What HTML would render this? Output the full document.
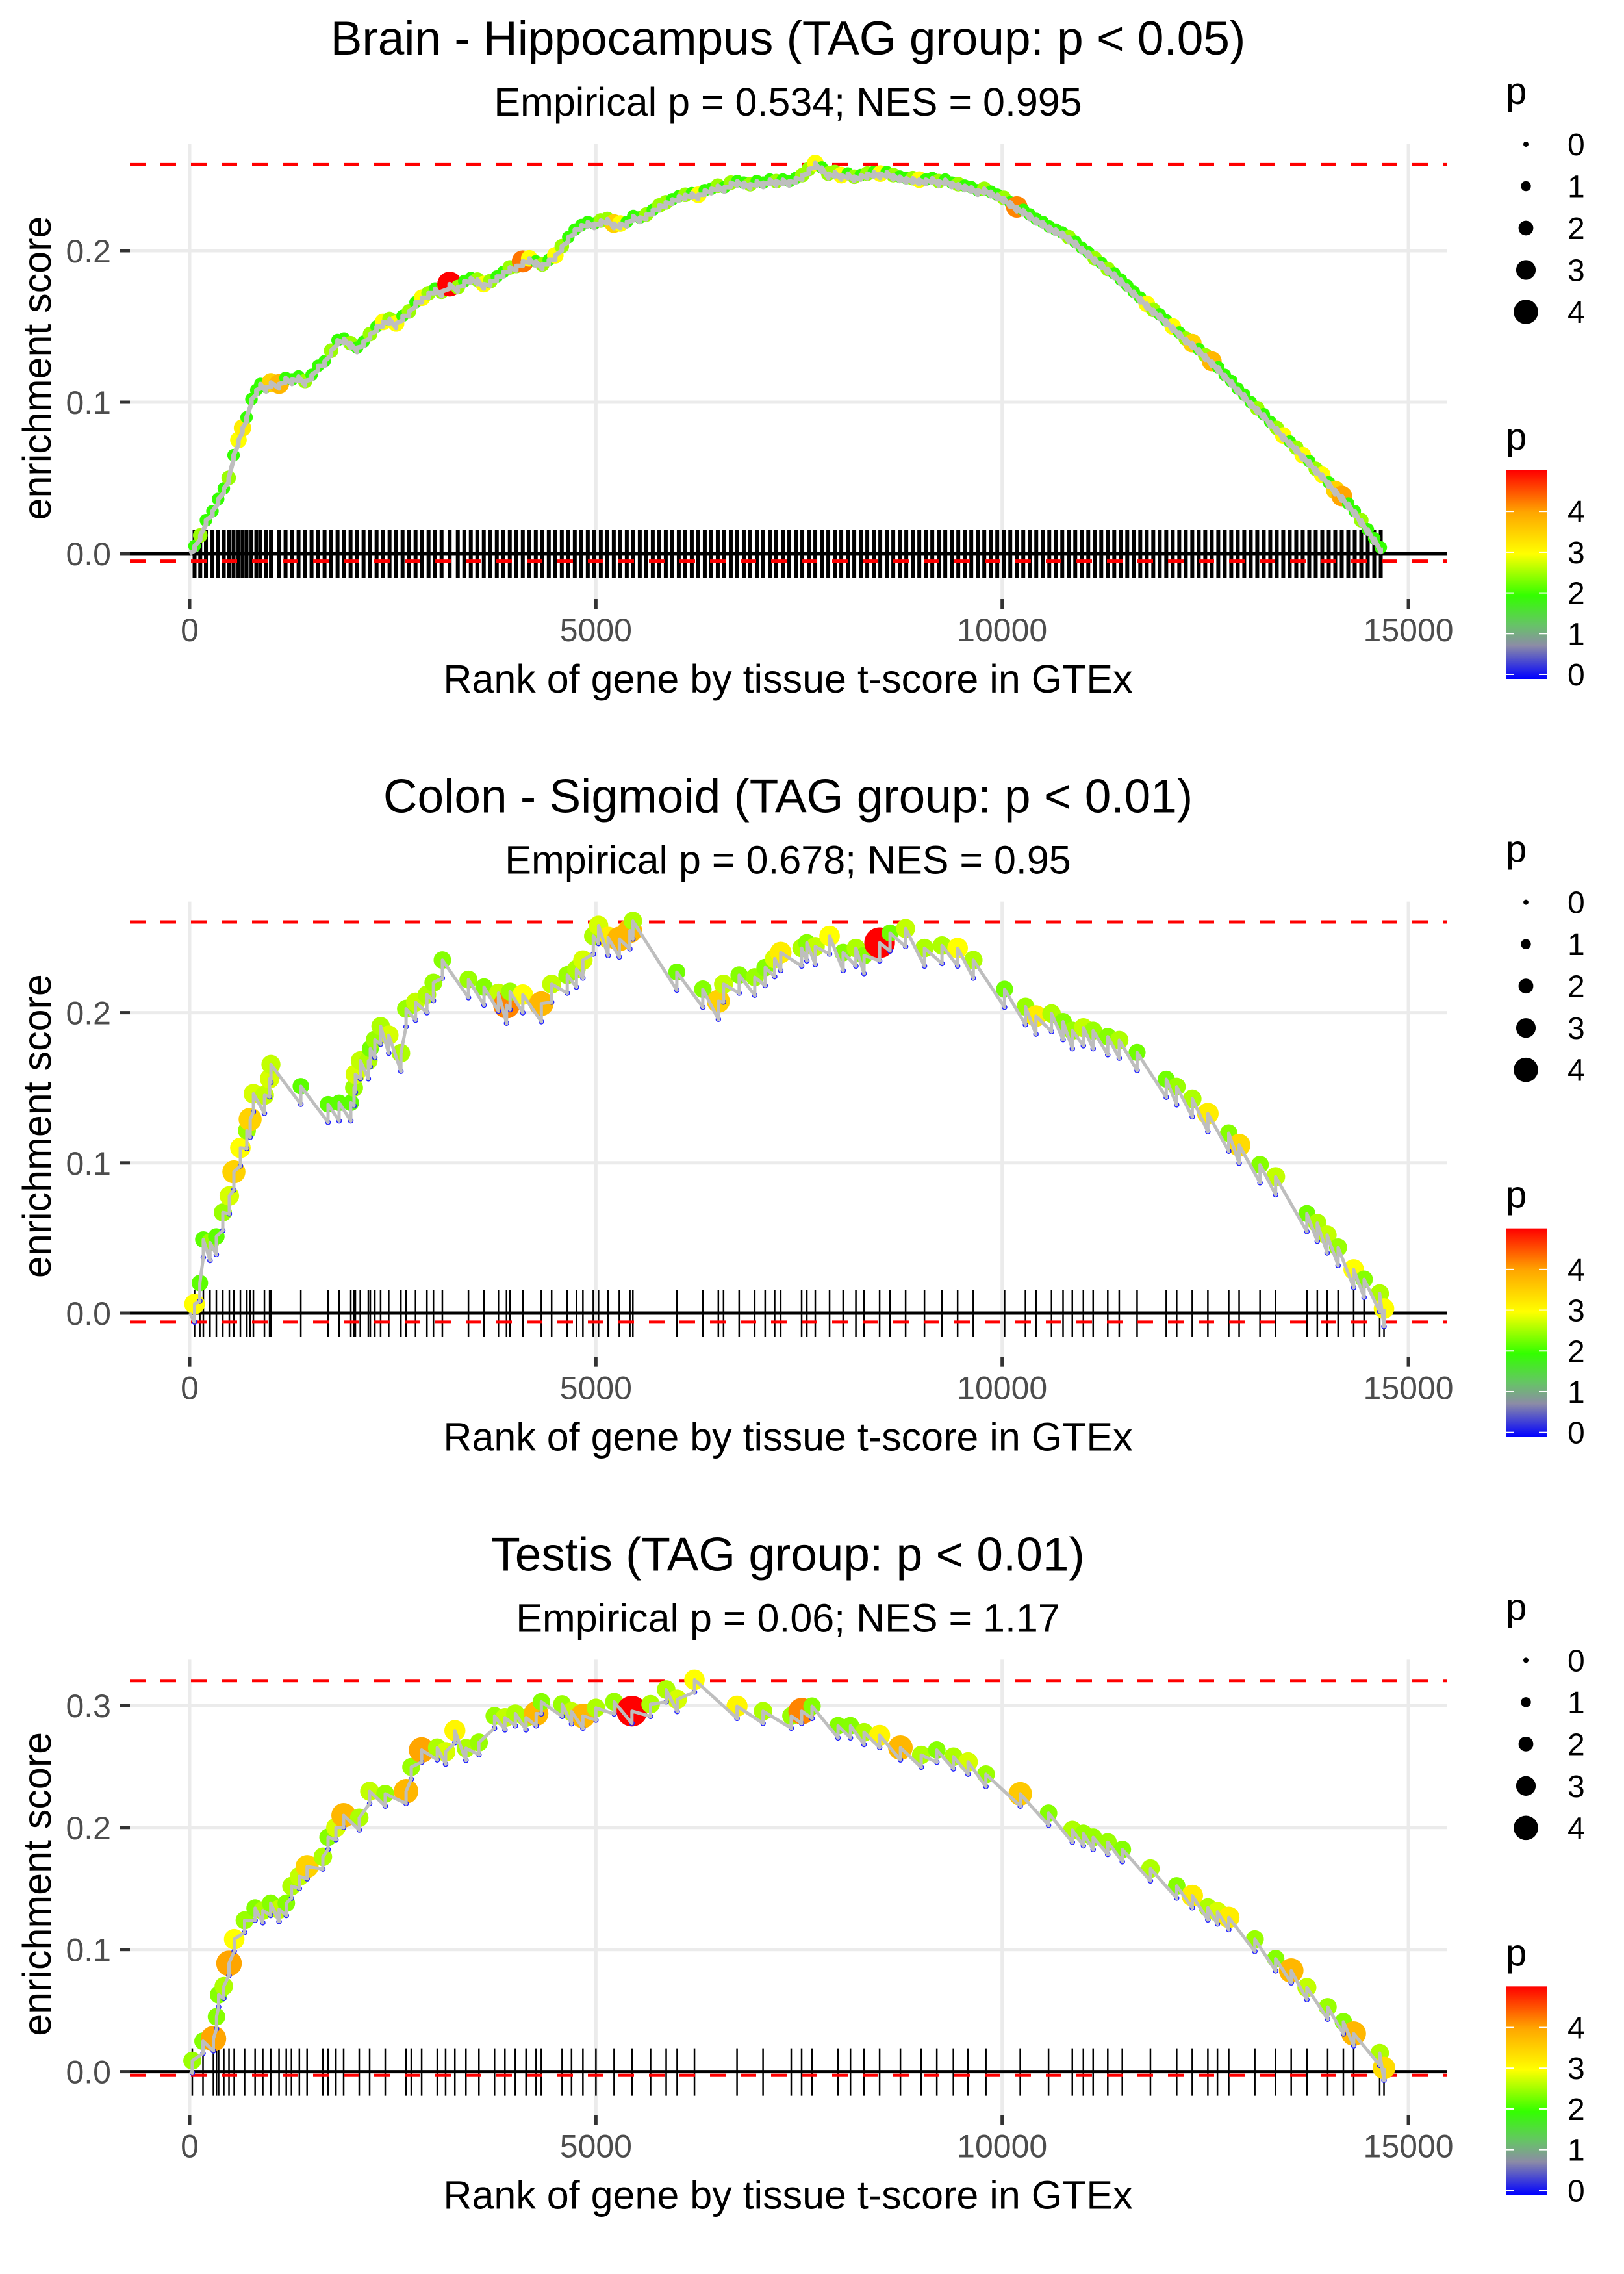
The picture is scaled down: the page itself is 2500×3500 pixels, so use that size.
<!DOCTYPE html>
<html><head><meta charset="utf-8"><style>
html,body{margin:0;padding:0;background:#fff;}
svg{display:block;font-family:"Liberation Sans",sans-serif;}
</style></head><body>
<svg id="chart" width="2500" height="3500" viewBox="0 0 2500 3500" xmlns="http://www.w3.org/2000/svg">
<defs>
<linearGradient id="pgrad" x1="0" y1="1" x2="0" y2="0">
<stop offset="0" stop-color="#0000ff"/>
<stop offset="0.16" stop-color="#8c8ca6"/>
<stop offset="0.26" stop-color="#66c466"/>
<stop offset="0.4" stop-color="#33ff00"/>
<stop offset="0.6" stop-color="#ffff00"/>
<stop offset="0.8" stop-color="#ffa500"/>
<stop offset="1" stop-color="#ff0000"/>
</linearGradient>
</defs>
</svg>
<script>
// ---------- data ----------
const titles = ["Brain - Hippocampus (TAG group: p < 0.05)","Colon - Sigmoid (TAG group: p < 0.01)","Testis (TAG group: p < 0.01)"];
const subtitles = ["Empirical p = 0.534; NES = 0.995","Empirical p = 0.678; NES = 0.95","Empirical p = 0.06; NES = 1.17"];
const esMax = [0.2569, 0.2604, 0.3203];
const esMin = [-0.005, -0.006, -0.003];
const xTicks = [0, 5000, 10000, 15000];
const xTickLabels = ["0","5000","10000","15000"];
const yTicks1 = [0, 0.1, 0.2];
const yTicks2 = [0, 0.1, 0.2];
const yTicks3 = [0, 0.1, 0.2, 0.3];
const yTickLabels1 = ["0.0","0.1","0.2"];
const yTickLabels2 = ["0.0","0.1","0.2"];
const yTickLabels3 = ["0.0","0.1","0.2","0.3"];
const sizeLegendValues = [0,1,2,3,4];
const colorLegendValues = [0,1,2,3,4];

const ranks1 = [60,130,200,280,350,420,480,540,600,650,700,760,820,870,940,1000,1100,1180,1260,1340,1420,1500,1580,1660,1740,1820,1900,1980,2060,2140,2220,2300,2380,2460,2540,2620,2700,2780,2860,2940,3020,3100,3200,3300,3380,3460,3540,3620,3700,3780,3860,3940,4020,4100,4180,4260,4340,4420,4500,4580,4660,4740,4820,4900,4980,5060,5140,5220,5300,5380,5460,5540,5620,5700,5780,5860,5940,6020,6100,6180,6260,6340,6420,6500,6580,6660,6740,6820,6900,6980,7060,7140,7220,7300,7380,7460,7540,7620,7700,7780,7860,7940,8020,8100,8180,8260,8340,8420,8500,8580,8660,8740,8820,8900,8980,9060,9140,9220,9300,9380,9460,9540,9620,9700,9780,9860,9940,10020,10100,10180,10260,10340,10420,10500,10580,10660,10740,10820,10900,10980,11060,11140,11220,11300,11380,11460,11540,11620,11700,11780,11860,11940,12020,12100,12180,12260,12340,12420,12500,12580,12660,12740,12820,12900,12980,13060,13140,13220,13300,13380,13460,13540,13620,13700,13780,13860,13940,14020,14100,14180,14260,14340,14420,14500,14580,14660];
const es1 = [0.005,0.012,0.022,0.028,0.036,0.043,0.05,0.065,0.075,0.083,0.09,0.102,0.108,0.112,0.11,0.113,0.112,0.116,0.115,0.117,0.114,0.118,0.124,0.127,0.134,0.141,0.142,0.139,0.136,0.14,0.145,0.15,0.153,0.155,0.152,0.157,0.16,0.166,0.169,0.172,0.175,0.173,0.178,0.176,0.18,0.182,0.181,0.178,0.18,0.183,0.186,0.189,0.19,0.193,0.195,0.193,0.191,0.194,0.197,0.203,0.209,0.214,0.217,0.219,0.218,0.22,0.221,0.218,0.218,0.219,0.223,0.222,0.224,0.227,0.23,0.232,0.234,0.236,0.237,0.238,0.237,0.24,0.241,0.243,0.242,0.245,0.246,0.245,0.244,0.246,0.245,0.247,0.246,0.247,0.246,0.248,0.25,0.254,0.258,0.255,0.251,0.252,0.25,0.251,0.249,0.25,0.251,0.252,0.251,0.252,0.25,0.249,0.248,0.248,0.247,0.247,0.248,0.246,0.247,0.245,0.244,0.243,0.242,0.24,0.241,0.239,0.237,0.235,0.232,0.229,0.227,0.224,0.221,0.219,0.216,0.214,0.212,0.209,0.206,0.202,0.199,0.195,0.192,0.188,0.185,0.181,0.177,0.173,0.169,0.165,0.161,0.158,0.154,0.15,0.146,0.142,0.139,0.135,0.131,0.127,0.123,0.118,0.114,0.109,0.105,0.1,0.096,0.092,0.087,0.083,0.078,0.074,0.07,0.065,0.061,0.056,0.052,0.047,0.042,0.038,0.033,0.028,0.022,0.016,0.01,0.004];
const p1 = [2,2.5,2,2,2,2,2.5,2,3,3.2,2,2,2,2,2,3.5,3.8,2,2,2,2.5,2,2,2,2.5,2,2,2.5,2,2,2.5,2,3,2.5,3,2,2.5,2,3,2.5,2,2.5,5,2.5,2,2,2.5,3,2.5,2,2,2.5,2.5,4.3,3,2,2.5,2,3,2.5,2,2,2,2,2,2.5,2.5,3.5,3,2,2,2,2.5,2,2.5,2.5,2,2,2.5,2,3,2,2,2.5,2,2.5,2,2,2.5,2,2,2,2.5,2,2,2,2.5,2.5,3,2,2.5,2.5,3,2,2.5,2,2.5,2,3,2,2.5,2,2,2.5,3,2,2,2.5,2,2,2.5,2,2,2,2.5,2,2,2.5,2,4.2,2,2,2,2,2,2,2,2.5,2,2,2,2.5,2,2.5,2,2,2,2,2,3,2.5,2,2,3,2,2.5,3.5,2,2.5,3.8,2,2,2,2,2,2,2.5,2,2,2.5,3,2,2.5,3,2,2.5,3,2,3.5,4,2,2,2.5,2,2,2];

const ranks2 = [60,125,168,250,328,408,488,544,624,704,744,784,920,984,1000,1368,1703,1839,1983,2023,2039,2100,2199,2223,2279,2350,2450,2600,2663,2780,2920,3000,3110,3431,3623,3800,3900,3943,4100,4328,4455,4647,4760,4840,4968,5032,5150,5288,5418,5455,5996,6316,6507,6571,6763,6955,7083,7200,7275,7532,7596,7700,7876,8043,8200,8300,8492,8620,8812,9044,9260,9452,9645,10030,10287,10416,10608,10750,10864,11000,11120,11300,11441,11661,12020,12148,12340,12532,12789,12917,13174,13366,13751,13879,14000,14135,14327,14455,14647,14700];
const es2 = [0.006,0.02,0.049,0.047,0.051,0.067,0.078,0.094,0.11,0.1215,0.129,0.146,0.145,0.156,0.1655,0.151,0.139,0.14,0.14,0.15,0.159,0.168,0.168,0.176,0.182,0.191,0.185,0.173,0.2026,0.207,0.212,0.22,0.235,0.222,0.217,0.213,0.205,0.214,0.212,0.206,0.219,0.225,0.229,0.235,0.251,0.258,0.25,0.249,0.2545,0.261,0.227,0.2156,0.2076,0.219,0.225,0.2236,0.23,0.236,0.24,0.243,0.2465,0.244,0.251,0.24,0.243,0.238,0.2465,0.253,0.256,0.243,0.2447,0.243,0.235,0.2156,0.204,0.1977,0.1994,0.194,0.188,0.19,0.188,0.184,0.1817,0.1735,0.1557,0.1507,0.1427,0.1328,0.1198,0.1118,0.0988,0.0908,0.0663,0.0599,0.052,0.0437,0.029,0.0225,0.013,0.003];
const p2 = [3,2.2,2.2,2.5,2.2,2.5,2.8,3.5,3,2.5,3.5,2.8,2.7,2.8,2.7,2.2,2.2,2.2,2.2,2.5,2.8,2.7,2.6,2.3,2.5,2.6,2.8,2.6,2.5,2.7,2.6,2.5,2.4,2.5,2.4,2.7,4.2,2.5,3,3.8,2.7,2.5,2.6,2.8,2.6,2.8,3.2,3.8,3.8,2.6,2.3,2.4,3.5,2.7,2.4,2.5,2.4,2.8,3.2,2.6,2.4,2.7,3,2.4,2.6,2.4,5,2.3,2.7,2.6,2.6,3,2.6,2.3,2.5,3.2,2.6,2.4,2.5,2.7,2.5,2.4,2.6,2.3,2.3,2.5,2.6,3.2,2.4,3.4,2.4,2.7,2.3,2.6,2.7,2.5,3,2.4,2.6,3];

const ranks3 = [32,164,292,330,356,420,484,548,676,805,900,997,1100,1189,1253,1350,1445,1639,1703,1800,1895,2087,2215,2407,2663,2727,2855,3047,3150,3264,3400,3560,3752,3880,4008,4140,4264,4328,4584,4700,4840,5000,5224,5443,5673,5865,6000,6213,6737,7057,7404,7532,7660,7980,8133,8300,8492,8748,9004,9196,9400,9580,9800,10223,10571,10864,11000,11120,11300,11479,11825,12148,12340,12532,12650,12789,13110,13366,13558,13751,14007,14200,14327,14647,14700];
const es3 = [0.009,0.025,0.027,0.045,0.063,0.07,0.0887,0.1085,0.124,0.134,0.132,0.138,0.133,0.138,0.152,0.16,0.168,0.176,0.192,0.2,0.21,0.208,0.2297,0.2276,0.2297,0.2496,0.2635,0.2654,0.262,0.2794,0.265,0.2696,0.2914,0.29,0.2933,0.29,0.2933,0.303,0.301,0.295,0.2914,0.298,0.303,0.2953,0.301,0.313,0.305,0.321,0.2994,0.2953,0.2914,0.2953,0.2994,0.2834,0.2834,0.278,0.2755,0.2654,0.2594,0.2635,0.258,0.2537,0.2436,0.2276,0.2118,0.1979,0.195,0.1919,0.188,0.182,0.1663,0.1522,0.1443,0.1344,0.131,0.1264,0.1085,0.0926,0.0828,0.069,0.053,0.0409,0.0312,0.0152,0.003];
const p3 = [2.5,2.4,4,2.4,2.4,2.6,4,3,2.5,2.4,2.6,2.4,2.7,2.4,2.6,2.7,3.5,2.6,2.4,2.8,3.8,2.6,2.7,2.5,3.8,2.5,4,2.6,2.8,3.1,2.6,2.5,2.5,2.7,2.6,2.6,3.8,2.4,2.5,2.7,3.8,2.6,2.5,5,2.6,2.6,2.8,3,3.1,2.6,2.5,4.2,2.4,2.4,2.4,2.6,3.1,3.8,2.6,2.4,2.6,2.8,2.5,3.6,2.4,2.6,2.5,2.5,2.5,2.4,2.6,2.4,3.2,2.6,2.8,3.2,2.5,2.4,3.8,2.7,2.5,2.4,3.8,2.6,3.4];

// ---------- rendering ----------
const NS = "http://www.w3.org/2000/svg";
const svg = document.getElementById("chart");
const PH = 1166.67;
const X0PX = 292, XSCALE = 0.12507;
const CX = 1213;
const panelLayout = [
  {zeroY: 852, unit: 2330, jump: 0.003, rugW: 6, ptScale: 0.85, lineW: 7},
  {zeroY: 2021, unit: 2312, jump: 0.012, rugW: 2.5, ptScale: 1.05, lineW: 5},
  {zeroY: 3188.6, unit: 1879, jump: 0.01, rugW: 2.5, ptScale: 1.05, lineW: 5}
];
function xScale(r){ return X0PX + r * XSCALE; }
function mk(tag, attrs, parent){
  const e = document.createElementNS(NS, tag);
  for (const k in attrs) e.setAttribute(k, attrs[k]);
  (parent || svg).appendChild(e);
  return e;
}
function hex(c){ return [parseInt(c.slice(1,3),16),parseInt(c.slice(3,5),16),parseInt(c.slice(5,7),16)]; }
const cStops = [[0,"#0000ff"],[0.8,"#8c8ca6"],[1.3,"#66c466"],[2,"#33ff00"],[3,"#ffff00"],[4,"#ffa500"],[5,"#ff0000"]];
function pColor(p){
  p = Math.max(0, Math.min(5, p));
  for (let i=1;i<cStops.length;i++){
    if (p <= cStops[i][0]){
      const a=cStops[i-1], b=cStops[i], t=(p-a[0])/(b[0]-a[0]);
      const ca=hex(a[1]), cb=hex(b[1]);
      return "rgb("+ca.map((v,j)=>Math.round(v+(cb[j]-v)*t)).join(",")+")";
    }
  }
  return "#ff0000";
}
function pRadius(p){ return 4 + 3.7 * p; }

const allRanks = [ranks1, ranks2, ranks3];
const allEs = [es1, es2, es3];
const allP = [p1, p2, p3];
const allYTicks = [yTicks1, yTicks2, yTicks3];
const allYLabels = [yTickLabels1, yTickLabels2, yTickLabels3];

for (let k=0;k<3;k++){
  const off = k * PH;
  const L = panelLayout[k];
  const yS = v => L.zeroY - v * L.unit;
  const g = mk("g", {});
  
  
  const top = 221 + off, bottom = 922 + off, left = 200, right = 2227;

  const t = mk("text", {x: CX, y: 84 + off, "text-anchor":"middle", "font-size": 73, fill:"#000"}, g);
  t.textContent = titles[k];
  
  
  const st = mk("text", {x: CX, y: 178 + off, "text-anchor":"middle", "font-size": 61, fill:"#000"}, g);
  st.textContent = subtitles[k];
  
  

  xTicks.forEach(v=>{
    const l = mk("line", {x1:xScale(v), x2:xScale(v), y1:top, y2:bottom, stroke:"#ebebeb", "stroke-width":5}, g);
    
    
  });
  allYTicks[k].forEach(v=>{
    const l = mk("line", {x1:left, x2:right, y1:yS(v), y2:yS(v), stroke:"#ebebeb", "stroke-width":5}, g);
    
    
  });

  const rug = mk("g", {}, g);
  
  
  allRanks[k].forEach(r=>{
    const l = mk("line", {x1:xScale(r), x2:xScale(r), y1:L.zeroY-36, y2:L.zeroY+37, stroke:"#000", "stroke-width":L.rugW}, rug);
    
    
  });

  const zl = mk("line", {x1:left, x2:right, y1:yS(0), y2:yS(0), stroke:"#000", "stroke-width":5}, g);
  
  
  [esMax[k], esMin[k]].forEach((v,i)=>{
    const l = mk("line", {x1:left, x2:right, y1:yS(v), y2:yS(v), stroke:"#ff0000", "stroke-width":5, "stroke-dasharray":"24 23"}, g);
    
    
  });

  const R = allRanks[k], E = allEs[k], P = allP[k];
  const pts = mk("g", {}, g);
  
  
  R.forEach((r,i)=>{
    const c = mk("circle", {cx:xScale(r), cy:yS(E[i]), r:pRadius(P[i])*L.ptScale, fill:pColor(P[i])}, pts);
    
    
  });
  let d = "M" + xScale(0) + "," + yS(0);
  R.forEach((r,i)=>{
    d += " L" + xScale(r).toFixed(1) + "," + yS(E[i]-L.jump).toFixed(1) + " L" + xScale(r).toFixed(1) + "," + yS(E[i]).toFixed(1);
  });
  const path = mk("path", {d:d, fill:"none", stroke:"#bebebe", "stroke-width":L.lineW, "stroke-linejoin":"round"}, g);
  
  
  if (k>0){
    R.forEach((r,i)=>{
      const c = mk("circle", {cx:xScale(r), cy:yS(E[i]-L.jump), r:3.5, fill:"none", stroke:"#2222ff", "stroke-width":1.5}, pts);
      
      
    });
  }

  xTicks.forEach((v,i)=>{
    const tk = mk("line", {x1:xScale(v), x2:xScale(v), y1:bottom, y2:bottom+15, stroke:"#333", "stroke-width":5}, g);
    
    
    const tl = mk("text", {x:xScale(v), y:987+off, "text-anchor":"middle", "font-size":50, fill:"#4d4d4d"}, g);
    tl.textContent = xTickLabels[i];
    
    
  });
  allYTicks[k].forEach((v,i)=>{
    const tk = mk("line", {x1:185, x2:200, y1:yS(v), y2:yS(v), stroke:"#333", "stroke-width":5}, g);
    
    
    const tl = mk("text", {x:171, y:yS(v)+18, "text-anchor":"end", "font-size":50, fill:"#4d4d4d"}, g);
    tl.textContent = allYLabels[k][i];
    
    
  });
  const xt = mk("text", {x:CX, y:1066+off, "text-anchor":"middle", "font-size":61, fill:"#000"}, g);
  xt.textContent = "Rank of gene by tissue t-score in GTEx";
  
  
  const cy = (top+bottom)/2 - 5;
  const yt = mk("text", {x:0, y:0, transform:"translate(78,"+cy+") rotate(-90)", "text-anchor":"middle", "font-size":61, fill:"#000"}, g);
  yt.textContent = "enrichment score";
  
  

  const sl = mk("g", {}, g);
  
  
  const slt = mk("text", {x:2318, y:160+off, "font-size":58, fill:"#000"}, sl);
  slt.textContent = "p";
  
  
  sizeLegendValues.forEach((v,i)=>{
    const yy = 222 + i*64.5 + off;
    const c = mk("circle", {cx:2349, cy:yy, r:pRadius(v), fill:"#000"}, sl);
    
    
    const tx = mk("text", {x:2413, y:yy+17, "font-size":48, fill:"#000"}, sl);
    tx.textContent = String(v);
    
    
  });

  const cl = mk("g", {}, g);
  
  
  const clt = mk("text", {x:2318, y:692+off, "font-size":58, fill:"#000"}, cl);
  clt.textContent = "p";
  
  
  const bar = mk("rect", {x:2318, y:724+off, width:64, height:321, fill:"url(#pgrad)"}, cl);
  
  
  colorLegendValues.forEach(v=>{
    const yy = 1038 - v*62.7 + off;
    const a = mk("line", {x1:2318, x2:2331, y1:yy, y2:yy, stroke:"#fff", "stroke-width":2}, cl);
    
    
    const b = mk("line", {x1:2369, x2:2382, y1:yy, y2:yy, stroke:"#fff", "stroke-width":2}, cl);
    
    
    const tx = mk("text", {x:2413, y:yy+17, "font-size":48, fill:"#000"}, cl);
    tx.textContent = String(v);
    
    
  });
}
</script>
</body></html>
